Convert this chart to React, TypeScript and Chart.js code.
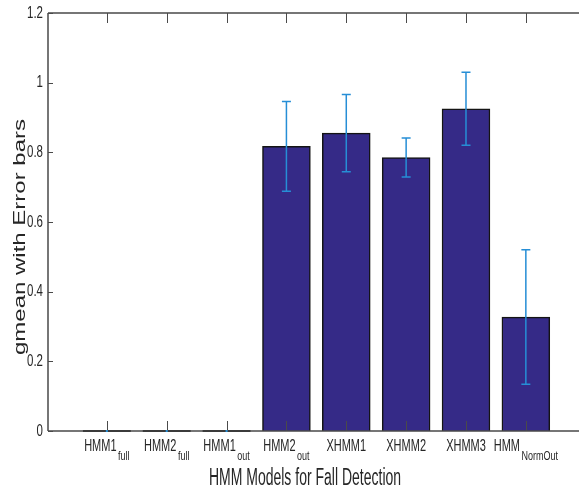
import React, { useEffect, useRef } from "react";
import { Chart, registerables } from "chart.js";

Chart.register(...registerables);

// Model names (main part + subscript part)
const modelNames = ["HMM1", "HMM2", "HMM1", "HMM2", "XHMM1", "XHMM2", "XHMM3", "HMM"];
const modelSubs = ["full", "full", "out", "out", "", "", "", "NormOut"];
// Mean gmean per model and symmetric error half-width
const gmeanValues = [0, 0, 0, 0.817, 0.855, 0.785, 0.925, 0.327];
const gmeanErrors = [0, 0, 0, 0.129, 0.111, 0.056, 0.105, 0.193];
const yTickValues = [0, 0.2, 0.4, 0.6, 0.8, 1, 1.2];
const yTickLabels = ["0", "0.2", "0.4", "0.6", "0.8", "1", "1.2"];

const xTitle = "HMM Models for Fall Detection";
const yTitle = "gmean with Error bars";

const FONT = '"Liberation Sans", Arial, Helvetica, sans-serif';
const STRETCH = 1.5;
const TEXT = "#262626";
const AXIS = "#4a4a4a";
const BAR = "rgb(53,42,135)";
const ERR = "rgb(38,142,214)";

function drawText(
  ctx: CanvasRenderingContext2D,
  text: string,
  x: number,
  y: number,
  size: number,
  align: CanvasTextAlign,
  baseline: CanvasTextBaseline,
  stretch: number = STRETCH
) {
  ctx.save();
  ctx.translate(x, y);
  ctx.scale(1, stretch);
  ctx.font = `${size}px ${FONT}`;
  ctx.fillStyle = TEXT;
  ctx.textAlign = align;
  ctx.textBaseline = baseline;
  ctx.fillText(text, 0, 0);
  ctx.restore();
}

const axesPlugin = {
  id: "matlabAxes",
  afterDatasetsDraw(chart: any) {
    const ctx: CanvasRenderingContext2D = chart.ctx;
    const xs = chart.scales.x;
    const ys = chart.scales.y;
    const area = chart.chartArea;
    const meta = chart.getDatasetMeta(0);
    const y0 = ys.getPixelForValue(0);
    const axisX = area.left + 1;

    ctx.save();
    // zero-height bars show as a dark edge along the baseline
    meta.data.forEach((bar: any, i: number) => {
      if (gmeanValues[i] === 0) {
        const w = bar.width;
        ctx.strokeStyle = "#111";
        ctx.lineWidth = 2;
        ctx.beginPath();
        ctx.moveTo(bar.x - w / 2, y0);
        ctx.lineTo(bar.x + w / 2, y0);
        ctx.stroke();
      }
    });

    // box lines
    ctx.strokeStyle = AXIS;
    ctx.lineWidth = 1.5;
    ctx.beginPath();
    ctx.moveTo(axisX, area.top);
    ctx.lineTo(axisX, y0);
    ctx.moveTo(axisX, y0);
    ctx.lineTo(area.right, y0);
    ctx.moveTo(axisX, area.top);
    ctx.lineTo(area.right, area.top);
    ctx.stroke();

    // inward ticks
    ctx.lineWidth = 1;
    ctx.beginPath();
    yTickValues.forEach((v) => {
      const py = Math.round(ys.getPixelForValue(v)) + 0.5;
      ctx.moveTo(axisX, py);
      ctx.lineTo(axisX + 5, py);
    });
    modelNames.forEach((_, i) => {
      const px = Math.round(xs.getPixelForValue(i + 1)) + 0.5;
      ctx.moveTo(px, y0);
      ctx.lineTo(px, y0 - 10);
      ctx.moveTo(px, area.top);
      ctx.lineTo(px, area.top + 10);
    });
    ctx.stroke();

    // error bars
    ctx.strokeStyle = ERR;
    ctx.fillStyle = ERR;
    ctx.lineWidth = 1.5;
    meta.data.forEach((bar: any, i: number) => {
      const e = gmeanErrors[i];
      const v = gmeanValues[i];
      const cx = bar.x;
      if (e === 0) {
        ctx.fillRect(cx - 1, ys.getPixelForValue(v) - 1, 2, 2);
        return;
      }
      const top = ys.getPixelForValue(v + e);
      const bot = ys.getPixelForValue(v - e);
      ctx.beginPath();
      ctx.moveTo(cx, top);
      ctx.lineTo(cx, bot);
      ctx.moveTo(cx - 4.5, top);
      ctx.lineTo(cx + 4.5, top);
      ctx.moveTo(cx - 4.5, bot);
      ctx.lineTo(cx + 4.5, bot);
      ctx.stroke();
    });

    // y tick labels
    yTickValues.forEach((v, i) => {
      drawText(ctx, yTickLabels[i], axisX - 5, ys.getPixelForValue(v), 11.5, "right", "middle");
    });

    // x tick labels with subscripts
    modelNames.forEach((name, i) => {
      const cx = xs.getPixelForValue(i + 1);
      const sub = modelSubs[i];
      ctx.font = `11px ${FONT}`;
      const mw = ctx.measureText(name).width;
      ctx.font = `9px ${FONT}`;
      const sw = sub ? ctx.measureText(sub).width + 1.5 : 0;
      const start = cx - (mw + sw) / 2;
      drawText(ctx, name, start, 451, 11, "left", "alphabetic");
      if (sub) drawText(ctx, sub, start + mw + 1.5, 459.5, 9, "left", "alphabetic");
    });

    // axis titles
    drawText(ctx, xTitle, 305, 485, 14, "center", "alphabetic", 1.65);
    ctx.save();
    ctx.translate(25, 237);
    ctx.scale(1, STRETCH);
    ctx.rotate(-Math.PI / 2);
    ctx.font = `16px ${FONT}`;
    ctx.fillStyle = TEXT;
    ctx.textAlign = "center";
    ctx.textBaseline = "alphabetic";
    ctx.fillText(yTitle, 0, 0);
    ctx.restore();

    ctx.restore();
  },
};

export default function App() {
  const canvasRef = useRef<HTMLCanvasElement | null>(null);

  useEffect(() => {
    if (!canvasRef.current) return;
    const chart = new Chart(canvasRef.current, {
      type: "bar",
      data: {
        datasets: [
          {
            data: gmeanValues.map((v, i) => ({ x: i + 1, y: v })),
            backgroundColor: BAR,
            borderColor: "#141414",
            borderWidth: 1.5,
            borderSkipped: "start",
            barThickness: "flex",
            barPercentage: 0.8,
            categoryPercentage: 1,
          },
        ],
      },
      options: {
        responsive: false,
        animation: false,
        devicePixelRatio: 1,
        layout: { padding: { left: 47, top: 13, bottom: 64, right: 0 } },
        plugins: { legend: { display: false }, tooltip: { enabled: false } },
        scales: {
          x: { type: "linear", display: false, min: 0, max: 8.888, offset: false },
          y: { type: "linear", display: false, min: 0, max: 1.2 },
        },
      },
      plugins: [axesPlugin],
    });
    return () => chart.destroy();
  }, []);

  return (
    <div style={{ position: "fixed", left: 0, top: 0, width: 579, height: 495, background: "#fff" }}>
      <canvas ref={canvasRef} width={579} height={495} />
    </div>
  );
}
